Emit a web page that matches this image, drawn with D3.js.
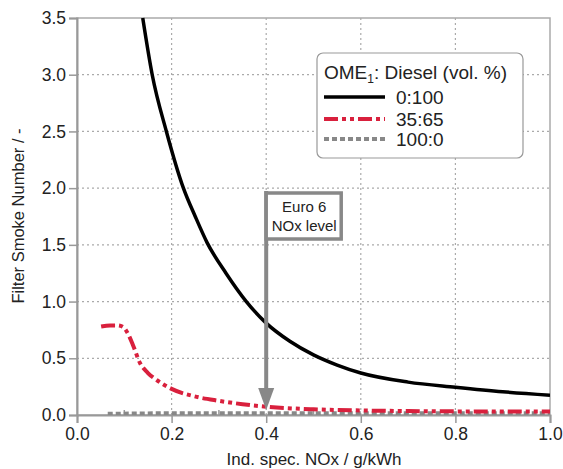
<!DOCTYPE html>
<html><head><meta charset="utf-8">
<script src="https://cdn.jsdelivr.net/npm/d3@7"></script>
<style>body{margin:0;background:#fff}svg{display:block}text{font-family:"Liberation Sans",Arial,sans-serif}</style>
</head><body><svg id="c" width="563" height="469"></svg>
<script>
const xTicks=[0.0,0.2,0.4,0.6,0.8,1.0];
const yTicks=[0.0,0.5,1.0,1.5,2.0,2.5,3.0,3.5];
const xMinor=[0.1,0.3,0.5,0.7,0.9];
const seriesNames=["0:100","35:65","100:0"];
const xBlack=[0.139,0.159,0.189,0.225,0.25,0.275,0.315,0.358,0.4,0.45,0.5,0.55,0.6,0.7,0.8,0.9,1.0];
const yBlack=[3.5,3.0,2.5,2.0,1.75,1.52,1.25,1.0,0.81,0.65,0.53,0.44,0.37,0.29,0.245,0.205,0.175];
const xRed=[0.051,0.07,0.084,0.096,0.106,0.118,0.133,0.15,0.168,0.2,0.253,0.3,0.35,0.4,0.5,0.6,0.7,0.8,0.9,1.0];
const yRed=[0.78,0.79,0.79,0.78,0.73,0.62,0.46,0.37,0.31,0.23,0.16,0.125,0.095,0.073,0.05,0.04,0.035,0.032,0.03,0.03];
const xGray=[0.065,0.2,0.4,0.6,0.8,1.0];
const yGray=[0.01,0.015,0.015,0.015,0.015,0.015];
const euroX=0.4;

const svg=d3.select("#c");
const L=77,R=550,T=18,B=415;
const x=d3.scaleLinear().domain([0,1]).range([L,R]);
const y=d3.scaleLinear().domain([0,3.5]).range([B,T]);
const grid="#aaa", axisC="#999";

svg.append("g").selectAll("line").data(yTicks.filter(d=>d>0&&d<3.5)).join("line")
 .attr("x1",L).attr("x2",R).attr("y1",d=>y(d)).attr("y2",d=>y(d))
 .attr("stroke",grid).attr("stroke-width",1.2).attr("stroke-dasharray","2,3");
svg.append("g").selectAll("line").data(xTicks.filter(d=>d>0&&d<1)).join("line")
 .attr("y1",T).attr("y2",B).attr("x1",d=>x(d)).attr("x2",d=>x(d))
 .attr("stroke",grid).attr("stroke-width",1.2).attr("stroke-dasharray","2,3");

svg.append("rect").attr("x",L).attr("y",T).attr("width",R-L).attr("height",B-T)
 .attr("fill","none").attr("stroke","#aaa").attr("stroke-width",1.5);

const xAxis=d3.axisBottom(x).tickValues(xTicks).tickFormat(d3.format(".1f")).tickSize(8).tickPadding(5);
const gx=svg.append("g").attr("transform",`translate(0,${B})`).call(xAxis);
const yAxis=d3.axisLeft(y).tickValues(yTicks).tickFormat(d3.format(".1f")).tickSize(8).tickPadding(3);
const gy=svg.append("g").attr("transform",`translate(${L},0)`).call(yAxis);
[gx,gy].forEach(g=>{g.select(".domain").attr("stroke",axisC).attr("stroke-width",2);
 g.selectAll(".tick line").attr("stroke",axisC).attr("stroke-width",1.5);
 g.selectAll(".tick text").attr("font-size",17.5).attr("fill","#222").attr("font-family","Liberation Sans, Arial, sans-serif");});
svg.append("g").selectAll("line").data(xMinor).join("line")
 .attr("x1",d=>x(d)).attr("x2",d=>x(d)).attr("y1",B).attr("y2",B-5)
 .attr("stroke",axisC).attr("stroke-width",1.5);

svg.append("text").attr("x",314).attr("y",465).attr("text-anchor","middle").attr("font-size",17).attr("fill","#222")
 .text("Ind. spec. NOx / g/kWh");
svg.append("text").attr("transform","translate(24,216) rotate(-90)").attr("text-anchor","middle").attr("font-size",16.5).attr("fill","#222")
 .text("Filter Smoke Number / -");

svg.append("clipPath").attr("id","cp").append("rect").attr("x",L).attr("y",T-2).attr("width",R-L).attr("height",B-T+2);

const line=d3.line().x(d=>x(d[0])).y(d=>y(d[1])).curve(d3.curveMonotoneX);
const gl=svg.append("g").attr("clip-path","url(#cp)");
gl.append("path").datum(xGray.map((v,i)=>[v,yGray[i]])).attr("d",line)
 .attr("fill","none").attr("stroke","#888").attr("stroke-width",4).attr("stroke-dasharray","5,3");
gl.append("path").datum(xRed.map((v,i)=>[v,yRed[i]])).attr("d",line)
 .attr("fill","none").attr("stroke","#d9203d").attr("stroke-width",4).attr("stroke-dasharray","14,4,4,4,4,4");
gl.append("path").datum(xBlack.map((v,i)=>[v,yBlack[i]])).attr("d",line)
 .attr("fill","none").attr("stroke","#000").attr("stroke-width",3.5);

const ax=x(euroX);
svg.append("line").attr("x1",ax).attr("x2",ax).attr("y1",191).attr("y2",392)
 .attr("stroke","#888").attr("stroke-width",4);
svg.append("path").attr("d",`M${ax-8},388 L${ax+8},388 L${ax},${B-5} Z`).attr("fill","#888");
svg.append("rect").attr("x",ax).attr("y",193).attr("width",75).attr("height",46)
 .attr("fill","#fff").attr("stroke","#888").attr("stroke-width",3.5);
svg.append("text").attr("x",ax+38).attr("y",212).attr("text-anchor","middle").attr("font-size",15).attr("fill","#222").text("Euro 6");
svg.append("text").attr("x",ax+38).attr("y",231).attr("text-anchor","middle").attr("font-size",15).attr("fill","#222").text("NOx level");

const lg=svg.append("g");
lg.append("rect").attr("x",317).attr("y",53).attr("width",206).attr("height",105).attr("rx",6)
 .attr("fill","#fff").attr("stroke","#999").attr("stroke-width",1.2);
const tt=lg.append("text").attr("x",324).attr("y",79).attr("font-size",19).attr("fill","#222");
tt.append("tspan").text("OME");
tt.append("tspan").attr("font-size",12).attr("dy",4).text("1");
tt.append("tspan").attr("dy",-4).text(": Diesel (vol. %)");
const styles=[{c:"#000",w:3.5,d:null},{c:"#d9203d",w:4,d:"14,4,4,4,4,4"},{c:"#888",w:4,d:"5,3"}];
const ly=[97,119,139];
seriesNames.forEach((n,i)=>{
 lg.append("line").attr("x1",324).attr("x2",385).attr("y1",ly[i]).attr("y2",ly[i])
  .attr("stroke",styles[i].c).attr("stroke-width",styles[i].w).attr("stroke-dasharray",styles[i].d);
 lg.append("text").attr("x",396).attr("y",ly[i]+6.5).attr("font-size",19).attr("fill","#222").text(n);
});
</script></body></html>
